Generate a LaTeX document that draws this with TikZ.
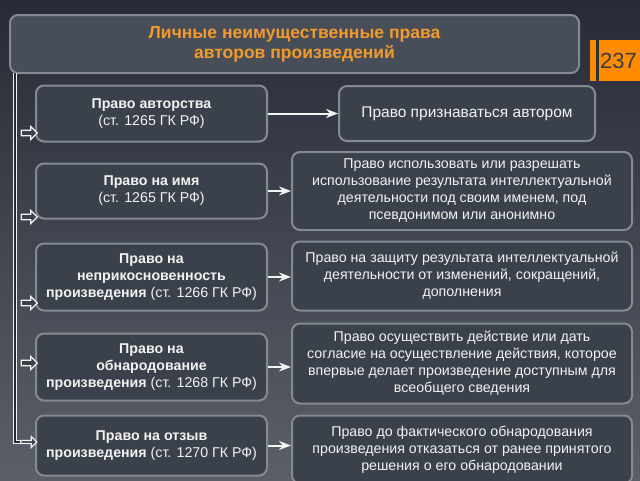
\documentclass[tikz,border=0pt]{standalone}
\usepackage{fontspec}
\setmainfont{Liberation Sans}
\usetikzlibrary{positioning, arrows.meta, shapes.arrows}

\definecolor{bgtop}{HTML}{262B36}
\definecolor{bgmid}{HTML}{30353F}
\definecolor{bgbot}{HTML}{5A5F68}
\definecolor{boxfill}{HTML}{3B414B}
\definecolor{titlefill}{HTML}{474E58}
\definecolor{boxline}{HTML}{858A92}
\definecolor{orangetext}{HTML}{F39A2C}
\definecolor{pageorange}{HTML}{FF8C00}
\definecolor{pagetext}{HTML}{3C3C3C}
\definecolor{linewhite}{HTML}{F2F2F2}

\begin{document}
\begin{tikzpicture}[x=1pt, y=1pt]
		\tikzset{
			>=Stealth,
			every node/.style={font=\fontsize{14.2}{17}\selectfont, text=linewhite},
			titlebox/.style={draw=boxline, line width=2pt, rounded corners=8pt, fill=titlefill, align=center, minimum width=569pt, minimum height=58pt, text=orangetext, font=\fontsize{17.5}{20}\selectfont\bfseries},
			lawbox/.style={draw=boxline, line width=2pt, rounded corners=8pt, fill=boxfill, align=center, minimum width=231pt},
			rightbox/.style={draw=boxline, line width=2pt, rounded corners=8pt, fill=boxfill, align=center, minimum width=340pt},
			hollow/.style={single arrow, draw=linewhite, fill=boxfill, line width=1.2pt, minimum height=16pt, minimum width=13pt, single arrow head extend=3pt, inner sep=1.5pt},
			bus/.style={draw=linewhite, line width=1.3pt, double=bgtop, double distance=2.2pt},
			link/.style={->, draw=linewhite, line width=2pt}
		}
		
		% Background
		\shade[top color=bgtop, middle color=bgmid, bottom color=bgbot] (0,0) rectangle (640,-480);
		\useasboundingbox (0,0) rectangle (640,-480);
		
		% Title and page number
		\node[titlebox] (title) at (294.5,-44) {Личные неимущественные права\\авторов произведений};
		\node[fill=pageorange, minimum width=6pt, minimum height=41pt, inner sep=0pt] (pagebar) at (593,-60.5) {};
		\node[fill=pageorange, minimum width=42pt, minimum height=41pt, inner sep=0pt, anchor=west] (page) at (599,-60.5) {};
		\node[anchor=west, inner sep=0pt, text=pagetext, font=\fontsize{22}{22}\selectfont] (pagenum) at (600,-60.5) {237};
		
		% Rights (left column)
		\node[lawbox, minimum height=56pt] (l1) at (151.5,-113.5) {\textbf{Право авторства}\\(ст. 1265 ГК РФ)};
		\node[lawbox, minimum height=55pt, below=20pt of l1] (l2) {\textbf{Право на имя}\\(ст. 1265 ГК РФ)};
		\node[lawbox, minimum height=67pt, below=23pt of l2] (l3) {\textbf{Право на}\\\textbf{неприкосновенность}\\\textbf{произведения} (ст. 1266 ГК РФ)};
		\node[lawbox, minimum height=67pt, below=21pt of l3] (l4) {\textbf{Право на}\\\textbf{обнародование}\\\textbf{произведения} (ст. 1268 ГК РФ)};
		\node[lawbox, minimum height=60pt, below=13pt of l4] (l5) {\textbf{Право на отзыв}\\\textbf{произведения} (ст. 1270 ГК РФ)};
		
		% Contents (right column)
		\node[rightbox, minimum width=256pt, minimum height=55pt, right=70pt of l1, font=\fontsize{15.5}{18}\selectfont] (r1) {Право признаваться автором};
		\node[rightbox, minimum height=78pt, right=23pt of l2] (r2) {Право использовать или разрешать\\использование результата интеллектуальной\\деятельности под своим именем, под\\псевдонимом или анонимно};
		\node[rightbox, minimum height=69pt, right=23pt of l3, yshift=1pt] (r3) {Право на защиту результата интеллектуальной\\деятельности от изменений, сокращений,\\дополнения};
		\node[rightbox, minimum height=80pt, right=23pt of l4, yshift=3.5pt] (r4) {Право осуществить действие или дать\\согласие на осуществление действия, которое\\впервые делает произведение доступным для\\всеобщего сведения};
		\node[rightbox, minimum height=68pt, right=23pt of l5, yshift=-4pt] (r5) {Право до фактического обнародования\\произведения отказаться от ранее принятого\\решения о его обнародовании};
		
		% Hollow arrows at the left
		\node[hollow] (a1) at (28,-133) {};
		\node[hollow] (a2) at (28,-217) {};
		\node[hollow] (a3) at (28,-303) {};
		\node[hollow] (a4) at (28,-363) {};
		\node[hollow, minimum width=11pt, inner sep=0.6pt] (a5) at (28,-442) {};
		
		% Bus line
		\coordinate (bustop) at (15,-73);
		\draw[bus] (bustop) |- (a5.west);
		
		% Links
		\draw[link] (l1) -- (l1 -| r1.west);
		\draw[link] (l2) -- (l2 -| r2.west);
		\draw[link] (l3) -- (l3 -| r3.west);
		\draw[link] (l4) -- (l4 -| r4.west);
		\draw[link] (l5) -- (l5 -| r5.west);
		
	\end{tikzpicture}
\end{document}
